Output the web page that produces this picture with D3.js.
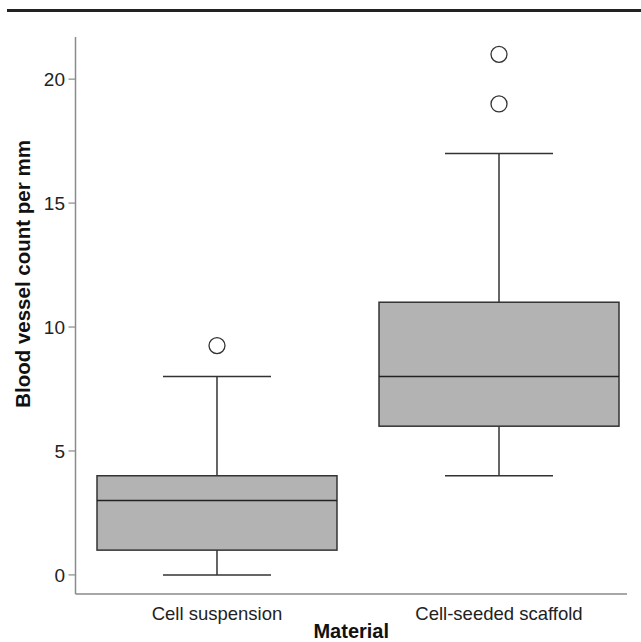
<!DOCTYPE html>
<html>
<head>
<meta charset="utf-8">
<script src="https://cdn.jsdelivr.net/npm/d3@7"></script>
<style>
  body { margin: 0; background: #fff; }
  svg { display: block; font-family: Arial, "Liberation Sans", sans-serif; }
</style>
</head>
<body>
<script>
// box plot values
var categories = ["Cell suspension", "Cell-seeded scaffold"];
var whiskerLow = [0, 4];
var q1 = [1, 6];
var median = [3, 8];
var q3 = [4, 11];
var whiskerHigh = [8, 17];
var outliers = [[9.25], [19, 21]];
var yTicks = [0, 5, 10, 15, 20];

var width = 641, height = 642;
var axisLeft = 75.5, axisRight = 627, axisTop = 37, axisBottom = 594;

var svg = d3.select("body").append("svg")
    .attr("width", width).attr("height", height);

// heavy rule at the very top
svg.append("line")
    .attr("x1", 7).attr("x2", width).attr("y1", 10.5).attr("y2", 10.5)
    .attr("stroke", "#222").attr("stroke-width", 3);

var y = d3.scaleLinear().domain([-0.77, 21.7]).range([axisBottom, axisTop]);
var x = d3.scaleBand().domain(categories).range([97, 619]).paddingInner(0.149).paddingOuter(0);

// axes lines
svg.append("line")
    .attr("x1", axisLeft).attr("x2", axisLeft).attr("y1", axisTop).attr("y2", axisBottom)
    .attr("stroke", "#8a8a8a").attr("stroke-width", 1.5);
svg.append("line")
    .attr("x1", axisLeft).attr("x2", axisRight).attr("y1", axisBottom).attr("y2", axisBottom)
    .attr("stroke", "#8a8a8a").attr("stroke-width", 1.5);

var ticks = svg.append("g").selectAll("g").data(yTicks).enter().append("g");
ticks.append("line")
    .attr("x1", axisLeft - 7).attr("x2", axisLeft)
    .attr("y1", function(d) { return y(d); }).attr("y2", function(d) { return y(d); })
    .attr("stroke", "#8a8a8a").attr("stroke-width", 1.2);
ticks.append("text")
    .attr("x", 65).attr("y", function(d) { return y(d) + 7; })
    .attr("text-anchor", "end")
    .attr("font-size", 19)
    .attr("fill", "#222")
    .text(function(d) { return d; });

// boxes
var boxes = svg.append("g").selectAll("g").data(categories).enter().append("g");
var lineColor = "#333";

boxes.each(function(c, i) {
  var g = d3.select(this);
  var x0 = x(c), bw = x.bandwidth(), cx = x0 + bw / 2;
  var cap = bw * 0.45;

  // whiskers
  g.append("line").attr("x1", cx).attr("x2", cx)
      .attr("y1", y(whiskerHigh[i])).attr("y2", y(q3[i]))
      .attr("stroke", lineColor).attr("stroke-width", 1.5);
  g.append("line").attr("x1", cx).attr("x2", cx)
      .attr("y1", y(q1[i])).attr("y2", y(whiskerLow[i]))
      .attr("stroke", lineColor).attr("stroke-width", 1.5);
  g.append("line").attr("x1", cx - cap / 2).attr("x2", cx + cap / 2)
      .attr("y1", y(whiskerHigh[i])).attr("y2", y(whiskerHigh[i]))
      .attr("stroke", lineColor).attr("stroke-width", 1.5);
  g.append("line").attr("x1", cx - cap / 2).attr("x2", cx + cap / 2)
      .attr("y1", y(whiskerLow[i])).attr("y2", y(whiskerLow[i]))
      .attr("stroke", lineColor).attr("stroke-width", 1.5);

  // box
  g.append("rect")
      .attr("x", x0).attr("width", bw)
      .attr("y", y(q3[i])).attr("height", y(q1[i]) - y(q3[i]))
      .attr("fill", "#b3b3b3").attr("stroke", lineColor).attr("stroke-width", 1.5);
  g.append("line").attr("x1", x0).attr("x2", x0 + bw)
      .attr("y1", y(median[i])).attr("y2", y(median[i]))
      .attr("stroke", "#222").attr("stroke-width", 1.5);

  // outliers
  g.selectAll("circle").data(outliers[i]).enter().append("circle")
      .attr("cx", cx).attr("cy", function(d) { return y(d); })
      .attr("r", 8)
      .attr("fill", "#fff").attr("stroke", lineColor).attr("stroke-width", 1.3);

  // category label
  g.append("text")
      .attr("x", cx).attr("y", 620)
      .attr("text-anchor", "middle")
      .attr("font-size", 18.5)
      .attr("fill", "#222")
      .text(c);
});

// axis titles
svg.append("text")
    .attr("x", (axisLeft + axisRight) / 2).attr("y", 638)
    .attr("text-anchor", "middle")
    .attr("font-size", 20).attr("font-weight", "bold")
    .attr("fill", "#111")
    .text("Material");

svg.append("text")
    .attr("transform", "translate(30,274) rotate(-90)")
    .attr("text-anchor", "middle")
    .attr("font-size", 20.5).attr("font-weight", "bold")
    .attr("fill", "#111")
    .text("Blood vessel count per mm");
</script>
</body>
</html>
